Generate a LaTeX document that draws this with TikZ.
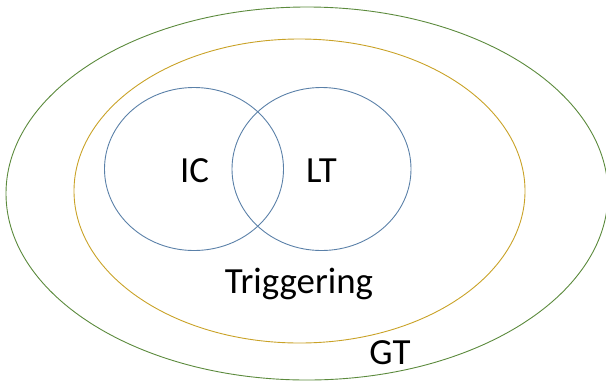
\documentclass[tikz,border=0pt]{standalone}
\usepackage{fontspec}
\setmainfont{Carlito}
\usetikzlibrary{shapes.geometric}
\definecolor{gtgreen}{HTML}{5B8A3C}
\definecolor{trgold}{HTML}{C9A227}
\definecolor{setblue}{HTML}{5A80A8}
\tikzset{
  region/.style={draw, ellipse, inner sep=0pt, line width=0.9pt},
  lbl/.style={anchor=base, inner sep=0pt, font=\fontsize{37}{40}\selectfont}
}
\begin{document}
\begin{tikzpicture}[x=1bp, y=-1bp]
\useasboundingbox (0,0) rectangle (606,381);
\node[region, gtgreen, minimum width=602bp, minimum height=373bp] (gt) at (307,193.5) {};
\node[region, trgold, minimum width=451bp, minimum height=304bp] (trig) at (299.5,191) {};
\node[region, setblue, minimum width=179bp, minimum height=163bp] (ic) at (194,169) {};
\node[region, setblue, minimum width=179bp, minimum height=163bp] (lt) at (321.5,169) {};
\node[lbl] (iclbl) at (194.5,182) {IC};
\node[lbl] (ltlbl) at (321.5,182) {LT};
\node[lbl] (triglbl) at (299,293) {Triggering};
\node[lbl] (gtlbl) at (390,364) {GT};
\end{tikzpicture}
\end{document}
